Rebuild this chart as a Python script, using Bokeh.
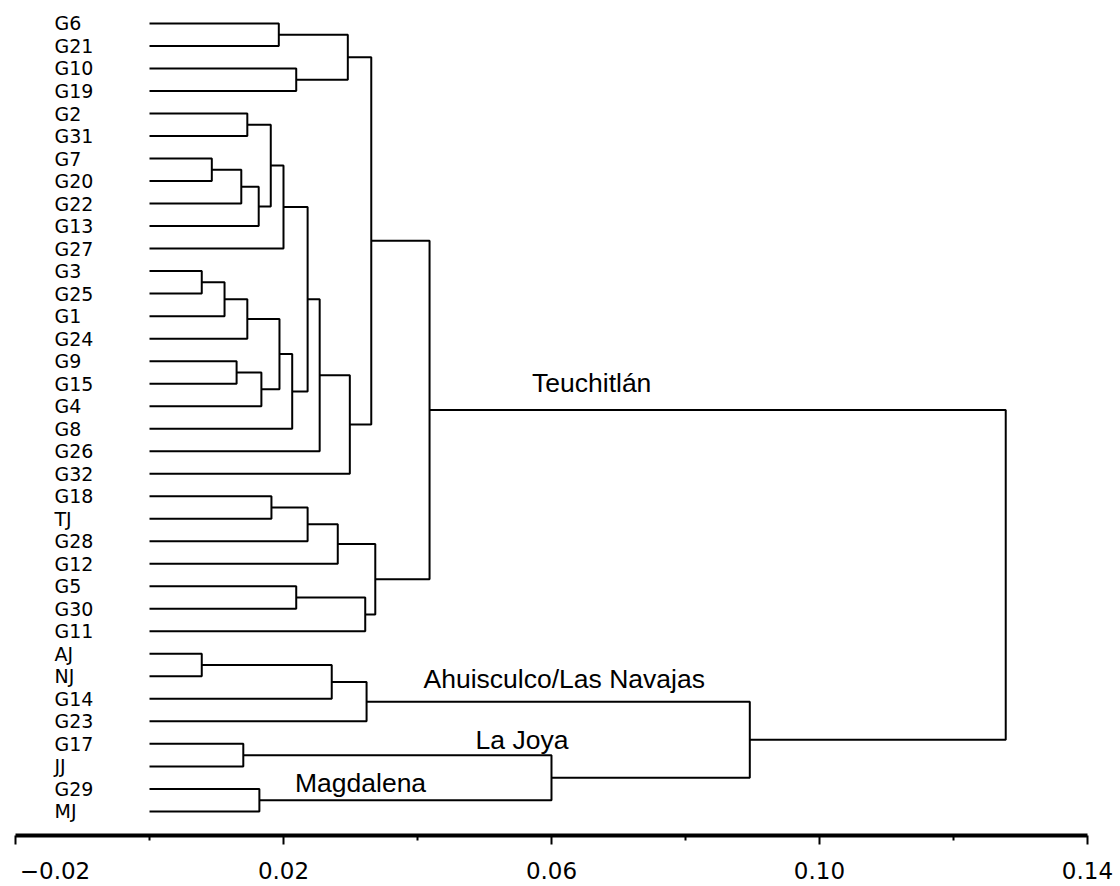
from bokeh.plotting import figure
from bokeh.models import Range1d, FixedTicker, NumeralTickFormatter
from bokeh.core.properties import value
from bokeh.embed import file_html
from bokeh.resources import INLINE

# ---------------- data ----------------
leaves = ["G6", "G21", "G10", "G19", "G2", "G31", "G7", "G20", "G22", "G13", "G27",
          "G3", "G25", "G1", "G24", "G9", "G15", "G4", "G8", "G26", "G32",
          "G18", "TJ", "G28", "G12", "G5", "G30", "G11",
          "AJ", "NJ", "G14", "G23", "G17", "JJ", "G29", "MJ"]

# merges: node k joins merge_left[k] and merge_right[k] at distance merge_height[k]
merge_left = ["G6", "G10", "n0", "G2", "G7", "n4", "n5", "n3", "n7",
              "G3", "n9", "n10", "G9", "n12", "n11", "n14", "n8", "n16", "n17", "n2",
              "G18", "n20", "n21", "G5", "n23", "n22", "n19",
              "AJ", "n27", "n28", "G17", "G29", "n30", "n29", "n26"]
merge_right = ["G21", "G19", "n1", "G31", "G20", "G22", "G13", "n6", "G27",
               "G25", "G1", "G24", "G15", "G4", "n13", "G8", "n15", "G26", "G32", "n18",
               "TJ", "G28", "G12", "G30", "G11", "n24", "n25",
               "NJ", "G14", "G23", "JJ", "MJ", "n31", "n32", "n33"]
merge_height = [0.0193, 0.0219, 0.0296, 0.0146, 0.0093, 0.0137, 0.0163, 0.0181, 0.0200,
                0.0078, 0.0112, 0.0146, 0.0130, 0.0167, 0.0194, 0.0213, 0.0236, 0.0254, 0.0299, 0.0331,
                0.0182, 0.0236, 0.0281, 0.0219, 0.0322, 0.0337, 0.0418,
                0.0078, 0.0272, 0.0324, 0.0140, 0.0164, 0.0600, 0.0896, 0.1278]

cluster_names = ["Teuchitlán", "Ahuisculco/Las Navajas", "La Joya", "Magdalena"]

x_ticks_major = [-0.02, 0.02, 0.06, 0.10, 0.14]
x_ticks_minor = [0.0, 0.04, 0.08, 0.12]
x_tick_labels = ["−0.02", "0.02", "0.06", "0.10", "0.14"]

# -------------- build dendrogram geometry --------------
pos = {name: (0.0, float(i)) for i, name in enumerate(leaves)}  # (height, y-index)
xs, ys = [], []
for k, (a, b, h) in enumerate(zip(merge_left, merge_right, merge_height)):
    ha, ya = pos[a]
    hb, yb = pos[b]
    xs.append([ha, h, h, hb])
    ys.append([ya, ya, yb, yb])
    pos["n%d" % k] = (h, (ya + yb) / 2.0)

# -------------- figure --------------
p = figure(width=1120, height=886, output_backend="svg", toolbar_location=None,
           x_range=Range1d(-0.02224, 0.14493), y_range=Range1d(36.07, -1.02),
           y_axis_location=None, min_border=0, min_border_bottom=49,
           min_border_left=0, min_border_right=0, min_border_top=0)
p.outline_line_color = None
p.xgrid.visible = False
p.ygrid.visible = False
p.background_fill_color = "white"
p.border_fill_color = "white"

p.multi_line(xs=xs, ys=ys, line_color="black", line_width=2)

# leaf labels
p.text(x=[0.0] * len(leaves), y=list(range(len(leaves))), text=leaves,
       x_offset=-95, text_align="left", text_baseline="middle",
       text_font=value("DejaVu Sans"), text_font_size="19px", text_color="black")

# cluster labels (annotation positions)
lab_x = [0.0660, 0.0619, 0.0556, 0.0315]
lab_y = [15.95, 29.11, 31.81, 33.76]
p.text(x=lab_x, y=lab_y, text=cluster_names, text_align="center",
       text_baseline="alphabetic", text_font=value("Liberation Sans"),
       text_font_size="26.5px", text_color="black")

# x axis
ax = p.xaxis[0]
ax.ticker = FixedTicker(ticks=x_ticks_major, minor_ticks=x_ticks_minor)
ax.formatter = NumeralTickFormatter(format="0.00")
overrides = {t: lbl for t, lbl in zip(x_ticks_major, x_tick_labels)}
# first label sits just right of its tick (as in the original)
overrides[x_ticks_major[0]] = "\u2007\u2009" + x_tick_labels[0]
ax.major_label_overrides = overrides
ax.bounds = (x_ticks_major[0], x_ticks_major[-1])
ax.axis_line_width = 4
ax.axis_line_color = "black"
ax.major_tick_line_width = 2
ax.minor_tick_line_width = 2
ax.major_tick_out = 9
ax.major_tick_in = 0
ax.minor_tick_out = 5
ax.minor_tick_in = 0
ax.major_label_standoff = 13
ax.major_label_text_font = "DejaVu Sans"
ax.major_label_text_font_size = "23px"
ax.major_label_text_color = "black"

open("out.html", "w").write(file_html(p, INLINE))
